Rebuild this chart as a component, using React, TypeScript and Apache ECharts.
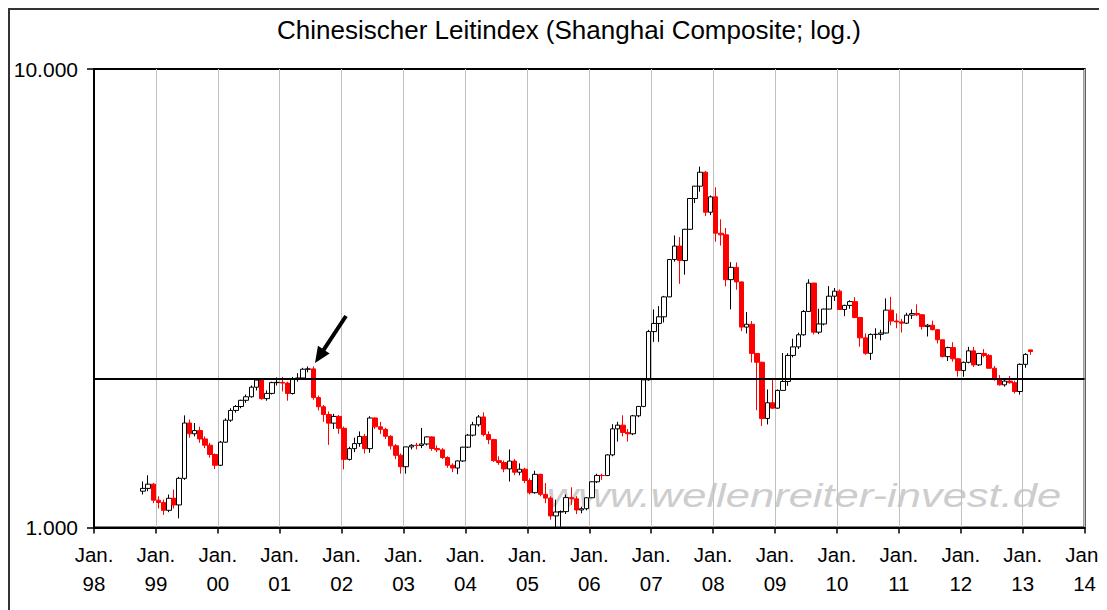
import React, { useEffect, useRef } from 'react';
import * as echarts from 'echarts';

const FONT = 'Liberation Sans, Arial, Helvetica, sans-serif';

// first monthly candle: October 1998
const firstYear = 1998;
const firstMonth = 10;

const openValues = [
  1200, 1217, 1243,
  1147, 1134, 1090, 1158, 1120, 1280, 1690, 1601, 1627, 1560, 1512, 1443,
  1367, 1535, 1714, 1800, 1836, 1894, 1928, 2023, 2097, 1910, 1961, 2070,
  2073, 2065, 1960, 2112, 2119, 2214, 2218, 1920, 1834, 1764, 1689, 1747,
  1646, 1408, 1486, 1524, 1580, 1486, 1733, 1658, 1637, 1581, 1507, 1437,
  1357, 1499, 1511, 1510, 1521, 1576, 1487, 1477, 1421, 1367, 1348, 1397,
  1497, 1590, 1675, 1742, 1595, 1555, 1399, 1386, 1342, 1396, 1320, 1340,
  1266, 1191, 1306, 1181, 1159, 1060, 1081, 1083, 1162, 1155, 1092, 1099,
  1161, 1258, 1299, 1298, 1440, 1641, 1672, 1612, 1601, 1752, 1837, 2099,
  2675, 2786, 2881, 3184, 3841, 4110, 3821, 4471, 5219, 5552, 5955, 4871,
  5262, 4383, 4348, 3472, 3693, 3433, 2736, 2775, 2397, 2293, 1729, 1871,
  1821, 1991, 2082, 2373, 2477, 2632, 2959, 3412, 2667, 2779, 2995, 3195,
  3277, 2989, 3051, 3109, 2871, 2592, 2398, 2637, 2638, 2656, 2979, 2820,
  2808, 2790, 2905, 2928, 2911, 2743, 2762, 2701, 2567, 2359, 2468, 2333,
  2199, 2292, 2428, 2263, 2397, 2373, 2225, 2103, 2047, 2086, 2069, 1980,
  2269, 2440,
];

const closeValues = [
  1217, 1243, 1147,
  1134, 1090, 1158, 1120, 1280, 1690, 1601, 1627, 1560, 1512, 1443, 1367,
  1535, 1714, 1800, 1836, 1894, 1928, 2023, 2097, 1910, 1961, 2070, 2073,
  2065, 1960, 2112, 2119, 2214, 2218, 1920, 1834, 1764, 1689, 1747, 1646,
  1408, 1486, 1524, 1580, 1486, 1733, 1658, 1637, 1581, 1507, 1437, 1357,
  1499, 1511, 1510, 1521, 1576, 1487, 1477, 1421, 1367, 1348, 1397, 1497,
  1590, 1675, 1742, 1595, 1555, 1399, 1386, 1342, 1396, 1320, 1340, 1266,
  1191, 1306, 1181, 1159, 1060, 1081, 1083, 1162, 1155, 1092, 1099, 1161,
  1258, 1299, 1298, 1440, 1641, 1672, 1612, 1601, 1752, 1837, 2099, 2675,
  2786, 2881, 3184, 3841, 4110, 3821, 4471, 5219, 5552, 5955, 4871, 5262,
  4383, 4348, 3472, 3693, 3433, 2736, 2775, 2397, 2293, 1729, 1871, 1821,
  1991, 2082, 2373, 2477, 2632, 2959, 3412, 2667, 2779, 2995, 3195, 3277,
  2989, 3051, 3109, 2871, 2592, 2398, 2637, 2638, 2656, 2979, 2820, 2808,
  2790, 2905, 2928, 2911, 2743, 2762, 2701, 2567, 2359, 2468, 2333, 2199,
  2292, 2428, 2263, 2397, 2373, 2225, 2103, 2047, 2086, 2069, 1980, 2269,
  2385, 2420,
];

const lowValues = [
  1180, 1200, 1130,
  1100, 1065, 1080, 1100, 1047, 1270, 1570, 1580, 1530, 1490, 1420, 1341,
  1361, 1530, 1700, 1780, 1820, 1870, 1920, 1990, 1900, 1890, 1950, 2040,
  1980, 1890, 1950, 2080, 2110, 2180, 1900, 1800, 1700, 1514, 1640, 1600,
  1339, 1400, 1460, 1500, 1450, 1455, 1640, 1600, 1560, 1480, 1410, 1311,
  1311, 1480, 1480, 1490, 1510, 1470, 1460, 1410, 1350, 1320, 1307, 1390,
  1490, 1580, 1660, 1580, 1520, 1390, 1370, 1320, 1260, 1300, 1300, 1250,
  1180, 1185, 1170, 1130, 1040, 1000, 1004, 1070, 1120, 1070, 1074, 1090,
  1160, 1250, 1270, 1295, 1430, 1540, 1580, 1540, 1590, 1740, 1830, 2090,
  2540, 2541, 2800, 3180, 3800, 3400, 3560, 4460, 5100, 5400, 4779, 4800,
  4200, 4120, 3357, 2990, 3300, 2680, 2650, 2290, 1802, 1665, 1678, 1814,
  1814, 1990, 2037, 2350, 2450, 2620, 2950, 2639, 2640, 2760, 2990, 3120,
  2980, 2890, 3000, 2860, 2480, 2380, 2320, 2580, 2560, 2650, 2760, 2720,
  2661, 2780, 2850, 2890, 2700, 2610, 2690, 2520, 2350, 2307, 2300, 2134,
  2132, 2280, 2240, 2250, 2350, 2220, 2090, 2040, 2029, 2060, 1960, 1949,
  2230, 2380,
];

const highValues = [
  1260, 1300, 1250,
  1170, 1150, 1180, 1210, 1290, 1756, 1720, 1690, 1660, 1580, 1530, 1450,
  1545, 1730, 1820, 1850, 1900, 1950, 2040, 2115, 2105, 1990, 2080, 2125,
  2130, 2080, 2130, 2170, 2230, 2245, 2245, 1940, 1850, 1790, 1770, 1760,
  1660, 1500, 1570, 1620, 1600, 1748, 1740, 1700, 1650, 1590, 1520, 1450,
  1500, 1520, 1530, 1649, 1580, 1580, 1510, 1490, 1430, 1380, 1400, 1500,
  1600, 1700, 1760, 1783, 1620, 1560, 1430, 1400, 1480, 1410, 1380, 1350,
  1280, 1330, 1310, 1250, 1170, 1150, 1090, 1180, 1224, 1170, 1110, 1165,
  1260, 1310, 1310, 1445, 1680, 1700, 1757, 1640, 1760, 1840, 2100, 2698,
  2990, 3040, 3200, 3850, 4335, 4300, 4480, 5230, 5560, 6124, 5990, 5300,
  5522, 4700, 4500, 3790, 3786, 3440, 2950, 2820, 2400, 2300, 2000, 2100,
  2000, 2402, 2400, 2580, 2660, 2980, 3478, 3420, 3000, 3000, 3361, 3330,
  3306, 3060, 3130, 3180, 2880, 2650, 2650, 2720, 2700, 3160, 3186, 2930,
  2850, 2940, 2990, 3067, 2920, 2780, 2826, 2710, 2570, 2480, 2536, 2340,
  2300, 2478, 2478, 2400, 2450, 2390, 2250, 2150, 2100, 2140, 2090, 2280,
  2400, 2444,
];

const referenceLevel = 2115;
const yAxisLabels: Record<number, string> = { 1000: '1.000', 10000: '10.000' };
const titleText = 'Chinesischer Leitindex (Shanghai Composite; log.)';
const watermarkText = 'www.wellenreiter-invest.de';

export default function App() {
  const ref = useRef<HTMLDivElement>(null);

  useEffect(() => {
    if (!ref.current) return;
    const chart = echarts.init(ref.current, null, { renderer: 'svg' });

    const candles = openValues.map((o, i) => {
      const mi = firstMonth - 1 + i;
      const t = firstYear + Math.floor(mi / 12) + ((mi % 12) + 0.5) / 12;
      return [t, o, closeValues[i], lowValues[i], highValues[i]];
    });

    // arrow annotation (pixel geometry)
    const tip = [307, 355];
    const tail = [338, 308];
    const dx = tail[0] - tip[0];
    const dy = tail[1] - tip[1];
    const len = Math.sqrt(dx * dx + dy * dy);
    const ux = dx / len, uy = dy / len;
    const nx = -uy, ny = ux;
    const headLen = 16, headHalf = 7, shaftHalf = 2;
    const bx = tip[0] + ux * headLen, by = tip[1] + uy * headLen;
    const arrowPts = [
      [tip[0], tip[1]],
      [bx + nx * headHalf, by + ny * headHalf],
      [bx + nx * shaftHalf, by + ny * shaftHalf],
      [tail[0] + nx * shaftHalf, tail[1] + ny * shaftHalf],
      [tail[0] - nx * shaftHalf, tail[1] - ny * shaftHalf],
      [bx - nx * shaftHalf, by - ny * shaftHalf],
      [bx - nx * headHalf, by - ny * headHalf],
    ];

    chart.setOption({
      animation: false,
      textStyle: { fontFamily: FONT },
      grid: {
        left: 86,
        right: 22,
        top: 61,
        bottom: 82.5,
        show: true,
        borderColor: '#000',
        borderWidth: 2,
        backgroundColor: 'transparent',
      },
      xAxis: {
        type: 'value',
        min: 1998,
        max: 2014,
        interval: 1,
        axisLine: { show: true, onZero: false, lineStyle: { color: '#000', width: 2 } },
        axisTick: { show: true, length: 6, lineStyle: { color: '#000', width: 1.5 } },
        axisLabel: {
          formatter: (v: number) => 'Jan.\n' + String(Math.round(v)).slice(2),
          color: '#000',
          fontSize: 20.5,
          lineHeight: 29,
          margin: 12,
          fontFamily: FONT,
        },
        splitLine: { show: true, lineStyle: { color: '#c0c0c0', width: 1 } },
      },
      yAxis: {
        type: 'log',
        logBase: 10,
        min: 1000,
        max: 10000,
        axisLine: { show: true, onZero: false, lineStyle: { color: '#000', width: 2 } },
        axisTick: { show: true, length: 7, lineStyle: { color: '#000', width: 1.5 } },
        axisLabel: {
          formatter: (v: number) => yAxisLabels[Math.round(v)] ?? '',
          color: '#000',
          fontSize: 21,
          margin: 16,
          fontFamily: FONT,
        },
        splitLine: { show: false },
      },
      series: [
        {
          type: 'candlestick',
          data: candles,
          barWidth: 5,
          itemStyle: {
            color: '#ffffff',
            color0: '#ff0000',
            borderColor: '#000000',
            borderColor0: '#ff0000',
            borderWidth: 1,
          },
          emphasis: { disabled: true },
          markLine: {
            silent: true,
            symbol: ['none', 'none'],
            label: { show: false },
            lineStyle: { color: '#000', width: 2, type: 'solid' },
            data: [{ yAxis: referenceLevel }],
          },
        },
      ],
      graphic: [
        {
          type: 'text',
          x: 796,
          y: 487,
          scaleX: 1.28,
          z: 0,
          silent: true,
          style: {
            text: watermarkText,
            fontSize: 34,
            fontStyle: 'italic',
            fontFamily: FONT,
            fill: '#cdcdcd',
            align: 'center',
            verticalAlign: 'middle',
          },
        },
        {
          type: 'text',
          x: 561,
          y: 22,
          z: 100,
          style: {
            text: titleText,
            fontSize: 26,
            fontFamily: FONT,
            fill: '#000',
            align: 'center',
            verticalAlign: 'middle',
          },
        },
        {
          type: 'polygon',
          z: 100,
          silent: true,
          shape: { points: arrowPts },
          style: { fill: '#000' },
        },
        {
          type: 'rect',
          z: 100,
          silent: true,
          shape: { x: 1, y: 1, width: 1120, height: 640 },
          style: { fill: 'none', stroke: '#333', lineWidth: 2 },
        },
      ],
    });

    return () => chart.dispose();
  }, []);

  return <div ref={ref} style={{ width: 1099, height: 602 }} />;
}
